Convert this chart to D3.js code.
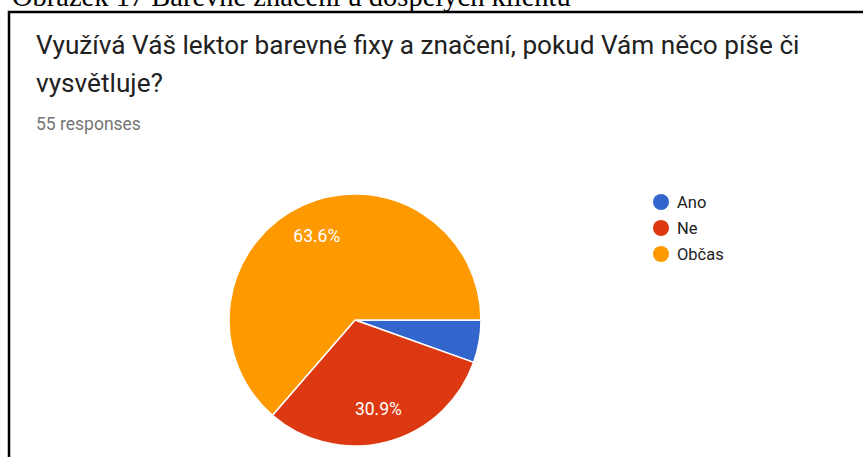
<!DOCTYPE html>
<html>
<head>
    <meta charset="utf-8">
    <title>Barevné fixy</title>
    <script src="https://cdnjs.cloudflare.com/ajax/libs/d3/7.8.5/d3.min.js"></script>
</head>
<style media="screen">
    body { margin: 0; background: #fff; }
    svg { display: block; }
    .title { font-family: Roboto, sans-serif; font-size: 26.2px; fill: #212121; }
    .sub { font-family: Roboto, sans-serif; font-size: 17.5px; fill: #757575; }
    .legend text { font-family: Roboto, sans-serif; font-size: 16.5px; fill: #222; }
    .pct { font-family: Roboto, sans-serif; font-size: 17.5px; fill: #fff; }
    .caption { font-family: "Liberation Serif", serif; font-size: 28.5px; fill: #000; }
</style>

<body>
    <script>
        var w = 863, h = 457;

        var categories = ["Ano", "Ne", "Občas"];
        var counts = [3, 17, 35];
        var colors = ["#3366cc", "#dc3912", "#ff9900"];
        var titleLines = ["Využívá Váš lektor barevné fixy a značení, pokud Vám něco píše či", "vysvětluje?"];
        var responses = "55 responses";
        var caption = "Obrázek 17 Barevné značení u dospělých klientů";

        var svg = d3.select("body")
            .append("svg")
            .attr("width", w)
            .attr("height", h);

        // caption above the screenshot, cut off at the top like in the source
        svg.append("text")
            .attr("class", "caption")
            .attr("x", 12)
            .attr("y", 6)
            .text(caption);

        // frame of the form card
        svg.append("path")
            .attr("d", "M9," + h + "V12H" + w)
            .attr("fill", "none")
            .attr("stroke", "#000")
            .attr("stroke-width", 2.5);

        svg.selectAll("text.title")
            .data(titleLines)
            .enter().append("text")
            .attr("class", "title")
            .attr("x", 36)
            .attr("y", function(d, i) { return 54 + i * 38; })
            .text(function(d) { return d; });

        svg.append("text")
            .attr("class", "sub")
            .attr("x", 36)
            .attr("y", 130)
            .text(responses);

        var total = d3.sum(counts);
        var data = categories.map(function(c, i) {
            return { name: c, value: counts[i], color: colors[i] };
        });

        var radius = 126;
        var pie = d3.pie()
            .sort(null)
            .value(function(d) { return d.value; })
            .startAngle(Math.PI / 2)
            .endAngle(Math.PI / 2 + 2 * Math.PI);

        var arc = d3.arc().innerRadius(0).outerRadius(radius);
        var labelArc = d3.arc().innerRadius(radius * 0.73).outerRadius(radius * 0.73);

        var g = svg.append("g")
            .attr("transform", "translate(355,320)");

        var arcs = pie(data);

        g.selectAll("path")
            .data(arcs)
            .enter().append("path")
            .attr("d", arc)
            .attr("fill", function(d) { return d.data.color; })
            .attr("stroke", "#fff")
            .attr("stroke-width", 1.5);

        g.selectAll("text")
            .data(arcs.filter(function(d) { return d.data.value / total > 0.1; }))
            .enter().append("text")
            .attr("class", "pct")
            .attr("transform", function(d) { return "translate(" + labelArc.centroid(d) + ")"; })
            .attr("text-anchor", "middle")
            .attr("dy", "0.35em")
            .text(function(d) { return (d.data.value / total * 100).toFixed(1) + "%"; });

        var legend = svg.append("g")
            .attr("class", "legend")
            .attr("transform", "translate(661,202)");

        var item = legend.selectAll("g")
            .data(data)
            .enter().append("g")
            .attr("transform", function(d, i) { return "translate(0," + i * 26 + ")"; });

        item.append("circle")
            .attr("r", 8)
            .attr("fill", function(d) { return d.color; });

        item.append("text")
            .attr("x", 16)
            .attr("dy", "0.35em")
            .text(function(d) { return d.name; });
    </script>
</body>

</html>
